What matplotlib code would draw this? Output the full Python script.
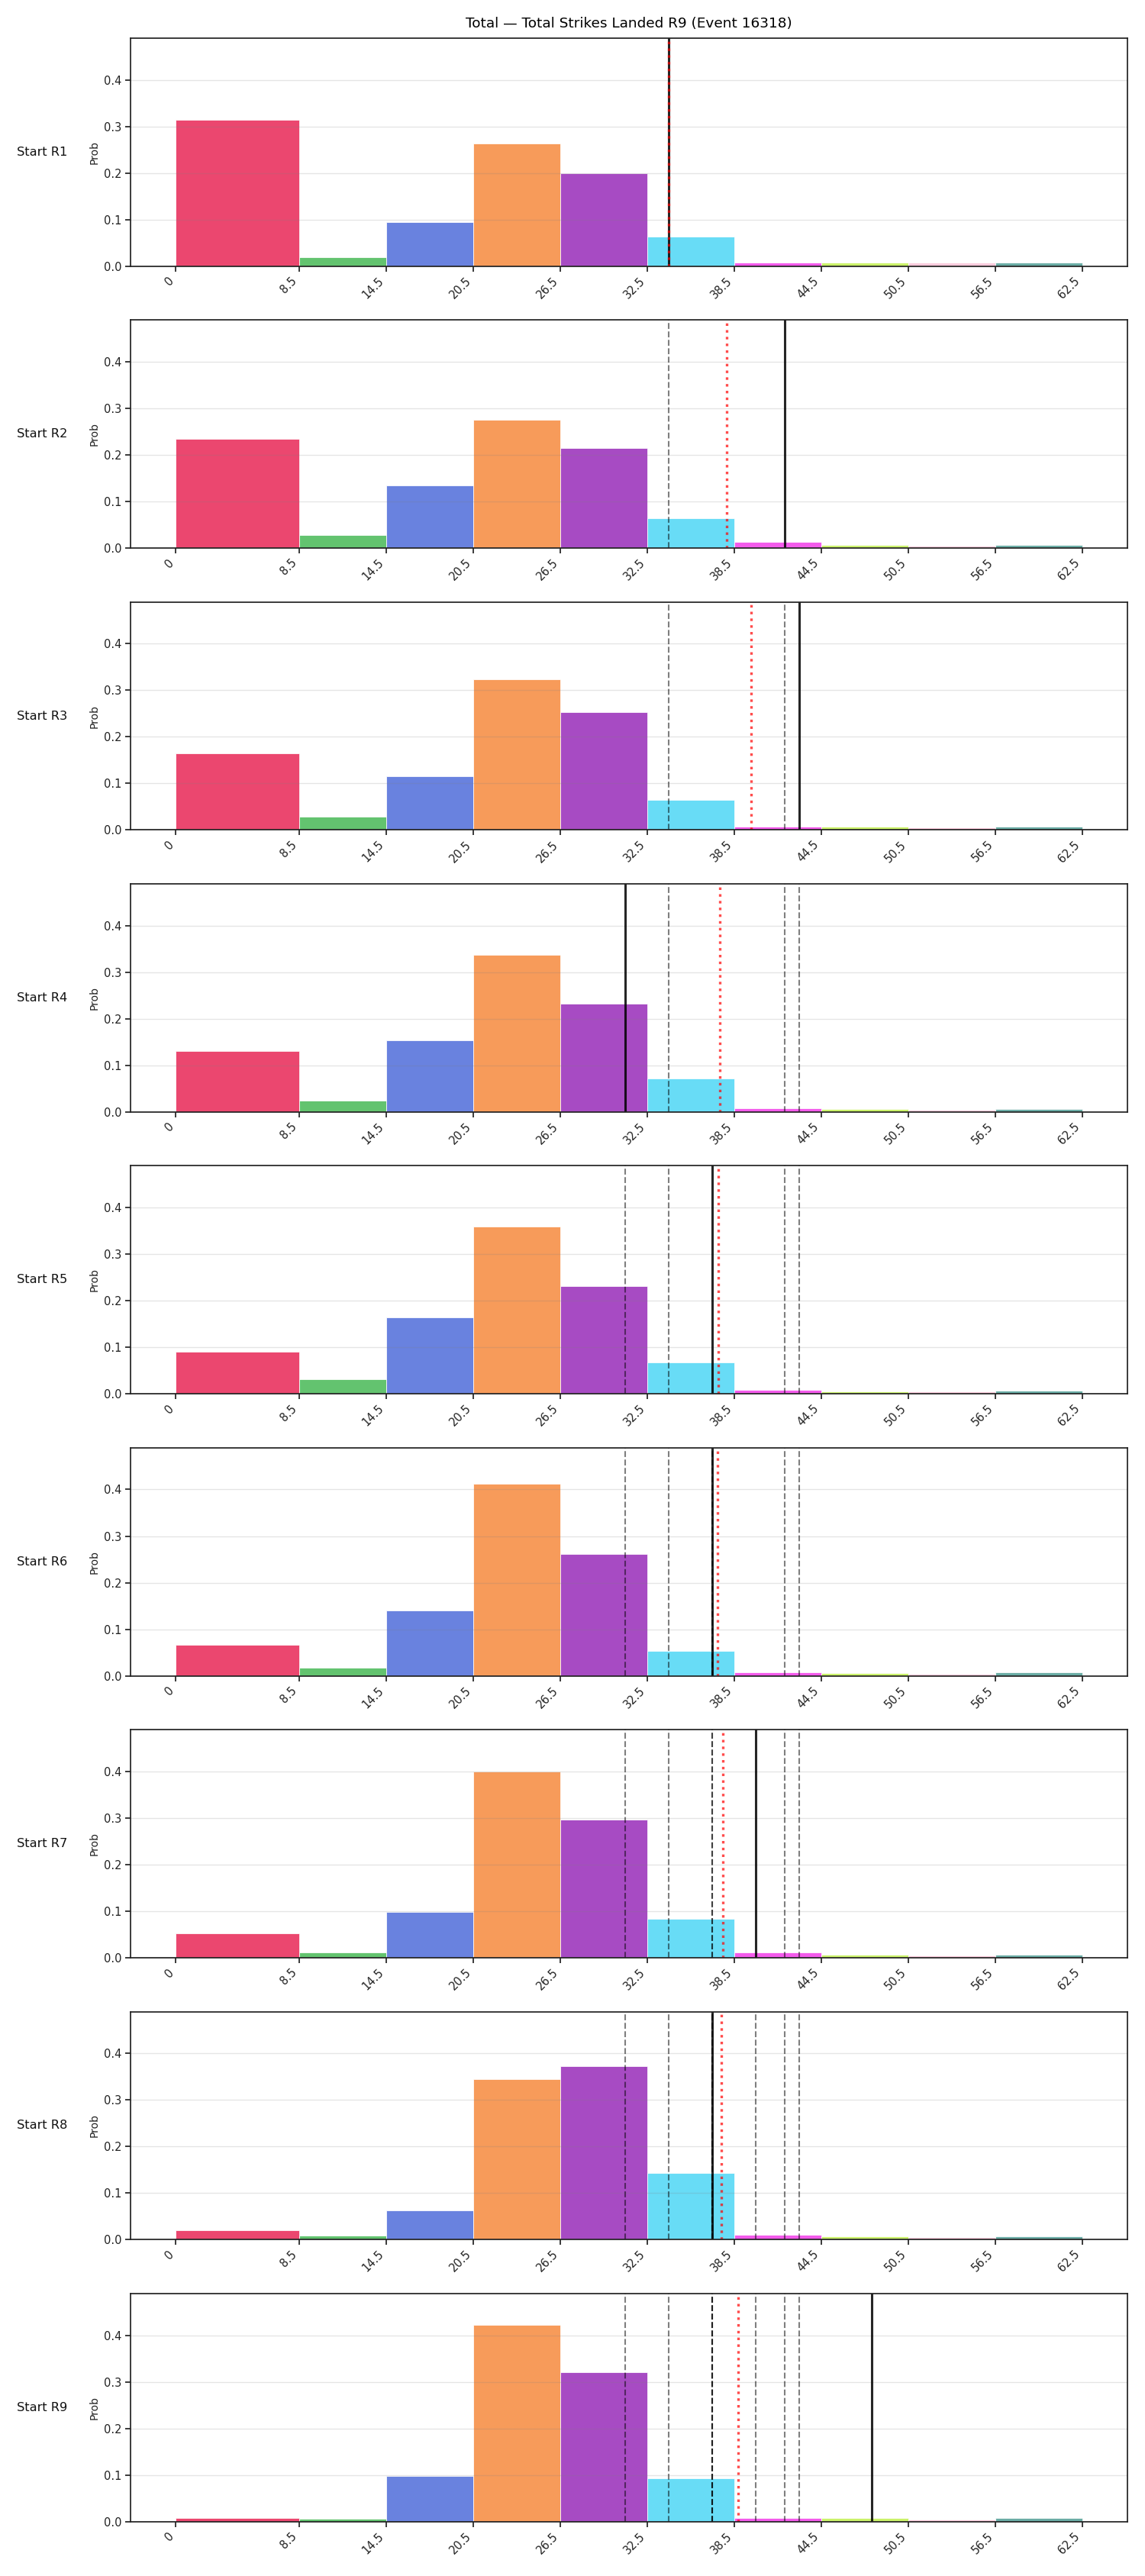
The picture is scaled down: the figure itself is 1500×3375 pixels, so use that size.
import matplotlib
matplotlib.use("Agg")
import matplotlib.pyplot as plt

# bin edges of the total strikes distribution
bin_edges = [0, 8.5, 14.5, 20.5, 26.5, 32.5, 38.5, 44.5, 50.5, 56.5, 62.5]
bin_colors = ["#e6194B", "#3cb44b", "#4363d8", "#f58231", "#911eb4",
              "#42d4f4", "#f032e6", "#bfef45", "#fabed4", "#469990"]

# probability per bin, one list per starting round
probs_r1 = [0.314, 0.019, 0.094, 0.263, 0.199, 0.063, 0.008, 0.008, 0.008, 0.008]
probs_r2 = [0.234, 0.028, 0.135, 0.276, 0.214, 0.064, 0.013, 0.006, 0.005, 0.007]
probs_r3 = [0.165, 0.028, 0.116, 0.324, 0.253, 0.065, 0.008, 0.007, 0.005, 0.007]
probs_r4 = [0.130, 0.025, 0.154, 0.337, 0.232, 0.071, 0.008, 0.006, 0.005, 0.007]
probs_r5 = [0.090, 0.032, 0.165, 0.360, 0.232, 0.068, 0.009, 0.006, 0.005, 0.007]
probs_r6 = [0.067, 0.018, 0.140, 0.412, 0.261, 0.053, 0.008, 0.006, 0.005, 0.007]
probs_r7 = [0.053, 0.011, 0.098, 0.400, 0.296, 0.084, 0.011, 0.007, 0.005, 0.007]
probs_r8 = [0.020, 0.008, 0.063, 0.345, 0.372, 0.143, 0.011, 0.007, 0.005, 0.007]
probs_r9 = [0.008, 0.006, 0.098, 0.422, 0.321, 0.093, 0.008, 0.008, 0.005, 0.007]
all_probs = [probs_r1, probs_r2, probs_r3, probs_r4, probs_r5,
             probs_r6, probs_r7, probs_r8, probs_r9]

# realised value per round and running average line
round_values = [34, 42, 43, 31, 37, 37, 40, 37, 48]
running_avg = [34.0, 38.0, 39.67, 37.5, 37.4, 37.33, 37.71, 37.63, 38.78]
row_labels = [f"Start R{i}" for i in range(1, 10)]

title = "Total \u2014 Total Strikes Landed R9 (Event 16318)"

lefts = bin_edges[:-1]
widths = [b - a for a, b in zip(bin_edges[:-1], bin_edges[1:])]
ymax = max(max(p) for p in all_probs) * 1.16
tick_labels = [f"{e:g}" for e in bin_edges]

fig, axes = plt.subplots(9, 1, figsize=(15, 33.75), dpi=100)
fig.subplots_adjust(left=0.114, right=0.9847, top=0.98519, bottom=0.02113, hspace=0.2367)

for i, ax in enumerate(axes):
    ax.bar(lefts, all_probs[i], width=widths, align="edge", color=bin_colors,
           alpha=0.8, edgecolor="white", linewidth=0.7)
    for v in round_values[:i]:
        ax.axvline(v, color="black", alpha=0.5, linestyle="--", linewidth=1.5)
    ax.axvline(round_values[i], color="black", alpha=0.85, linewidth=2.2)
    ax.axvline(running_avg[i], color="red", alpha=0.7, linestyle=":", linewidth=2.4)

    ax.set_ylim(0, ymax)
    ax.set_xticks(bin_edges)
    ax.set_xticklabels(tick_labels, rotation=45, ha="right")
    ax.tick_params(axis="both", labelsize=10.5, length=4.8, width=1.25,
                   color="#222222", labelcolor="#222222")
    ax.grid(axis="y", color="gray", alpha=0.2, linewidth=1)
    for s in ax.spines.values():
        s.set_linewidth(1.25)
        s.set_color("#222222")
    ax.set_ylabel("Prob", fontsize=10, color="#222222")
    ax.text(-0.063, 0.5, row_labels[i], transform=ax.transAxes,
            ha="right", va="center", fontsize=11.7, color="#111111")

axes[0].set_title(title, fontsize=13.3, pad=10)

fig.savefig("out.png", dpi=100)
